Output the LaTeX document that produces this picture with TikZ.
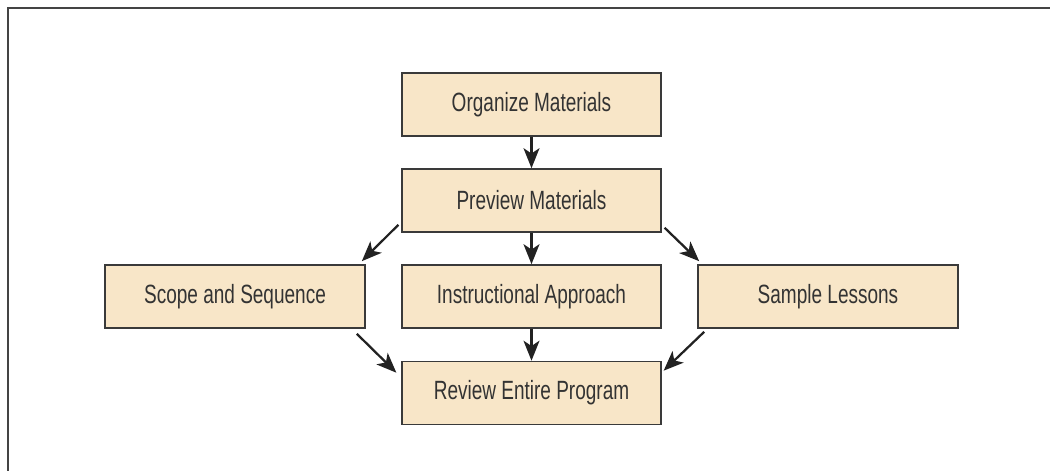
\documentclass[tikz,border=0pt]{standalone}
\usepackage{fontspec}
\setmainfont[FakeStretch=0.72]{Liberation Sans}
\usetikzlibrary{arrows.meta}
\definecolor{boxfill}{HTML}{F8E6C8}
\definecolor{boxline}{HTML}{3A3A3A}
\definecolor{txt}{HTML}{333333}
\definecolor{arrowc}{HTML}{222222}
\definecolor{framec}{HTML}{444444}
\begin{document}
\begin{tikzpicture}[x=0.75pt,y=-0.75pt,
  flowbox/.style={draw=boxline, fill=boxfill, line width=1.2pt, minimum height=47.25pt,
    text=txt, font=\fontsize{19.8}{22}\selectfont, inner sep=0pt},
  arr/.style={draw=arrowc, line width=1.7pt, -{Stealth[length=15pt,width=12pt,inset=4pt]}}]
\useasboundingbox (0,0) rectangle (1050,471);
\draw[framec, line width=2pt] (8,472) -- (8,8) -- (1051,8);
\node[flowbox, minimum width=194pt] (org) at (531.5,104.5) {Organize Materials};
\node[flowbox, minimum width=194pt] (prev) at (531.5,200.5) {Preview Materials};
\node[flowbox, minimum width=195pt] (scope) at (235,296.5) {Scope and Sequence};
\node[flowbox, minimum width=194pt] (instr) at (531.5,296.5) {Instructional Approach};
\node[flowbox, minimum width=195pt] (sample) at (828,296.5) {Sample Lessons};
\node[flowbox, minimum width=194pt] (review) at (531.5,393) {Review Entire Program};
\draw[arr] (org.south) -- (prev.north);
\draw[arr] (prev.south) -- (instr.north);
\draw[arr] (instr.south) -- (review.north);
\draw[arr] ([shift={(-3,-8)}]prev.south west) -- ([shift={(-4,-3)}]scope.north east);
\draw[arr] ([shift={(3,-5)}]prev.south east) -- ([shift={(2,-3)}]sample.north west);
\draw[arr] ([shift={(-9,5)}]scope.south east) -- ([shift={(-5,12)}]review.north west);
\draw[arr] ([shift={(7,3)}]sample.south west) -- ([shift={(2,10)}]review.north east);
\end{tikzpicture}
\end{document}
